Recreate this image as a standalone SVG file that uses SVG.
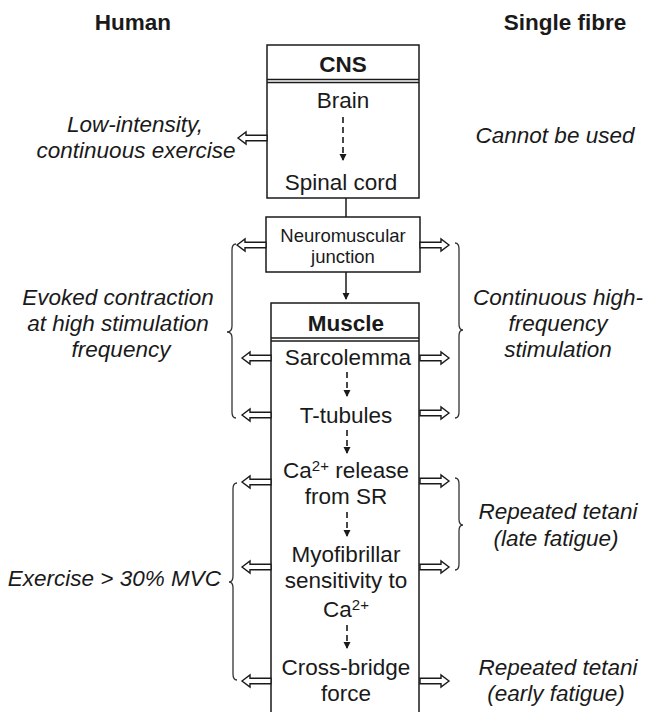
<svg xmlns="http://www.w3.org/2000/svg" width="650" height="712" viewBox="0 0 650 712">
<style>
text{font-family:"Liberation Sans",Arial,sans-serif;fill:#1a1a1a;font-size:22.5px}
.b{font-weight:bold}
.i{font-style:italic}
.m{text-anchor:middle}
.box{fill:#fff;stroke:#1a1a1a;stroke-width:1.5}
.ln{stroke:#1a1a1a;stroke-width:1.5;fill:none}
.dash{stroke:#1a1a1a;stroke-width:1.6;fill:none;stroke-dasharray:6 4}
.brace{stroke:#333;stroke-width:1.3;fill:none}
.ba{fill:#fff;stroke:#1a1a1a;stroke-width:1.4;stroke-linejoin:miter}
</style>
<defs>
<marker id="ah" markerWidth="8" markerHeight="8" refX="6" refY="4" orient="auto" markerUnits="userSpaceOnUse">
<path d="M0,0.5 L7,4 L0,7.5 Z" fill="#1a1a1a"/>
</marker>
<path id="la" class="ba" d="M0,0 L8,-6 L8,-2.8 L29,-2.8 L29,2.8 L8,2.8 L8,6 Z"/>
<path id="ra" class="ba" d="M0,0 L-8,-6 L-8,-2.8 L-29,-2.8 L-29,2.8 L-8,2.8 L-8,6 Z"/>
</defs>

<g id="headers">
<text class="b m" x="133" y="30">Human</text>
<text class="b m" x="565" y="30">Single fibre</text>
</g>

<g id="cns">
<rect class="box" x="267" y="45" width="152" height="153"/>
<line class="ln" x1="267" y1="79.5" x2="419" y2="79.5" stroke-width="1.2"/>
<line class="ln" x1="267" y1="82.5" x2="419" y2="82.5" stroke-width="1.2"/>
<text class="b m" x="343" y="72">CNS</text>
<text class="m" x="343" y="108">Brain</text>
<text class="m" x="341" y="190">Spinal cord</text>
</g>

<g id="nmj">
<rect class="box" x="266" y="217" width="154" height="55"/>
<text class="m" x="343" y="242" style="font-size:18.5px">Neuromuscular</text>
<text class="m" x="343" y="263" style="font-size:18.5px">junction</text>
</g>

<g id="muscle">
<path class="ln" d="M271,715 L271,303 L419,303 L419,715"/>
<line class="ln" x1="271" y1="338" x2="419" y2="338" stroke-width="1.2"/>
<line class="ln" x1="271" y1="341" x2="419" y2="341" stroke-width="1.2"/>
<text class="b m" x="346" y="331">Muscle</text>
<text class="m" x="348" y="365">Sarcolemma</text>
<text class="m" x="346" y="423">T-tubules</text>
<text class="m" x="346" y="478">Ca<tspan dy="-7" style="font-size:15px">2+</tspan><tspan dy="7"> release</tspan></text>
<text class="m" x="346" y="504">from SR</text>
<text class="m" x="346" y="562">Myofibrillar</text>
<text class="m" x="346" y="588">sensitivity to</text>
<text class="m" x="346" y="617">Ca<tspan dy="-7" style="font-size:15px">2+</tspan></text>
<text class="m" x="346" y="675">Cross-bridge</text>
<text class="m" x="346" y="701">force</text>
</g>

<g id="human-labels">
<text class="i m" x="135" y="132">Low-intensity,</text>
<text class="i m" x="136" y="158">continuous exercise</text>
<text class="i m" x="118" y="305">Evoked contraction</text>
<text class="i m" x="118" y="331">at high stimulation</text>
<text class="i m" x="121" y="357">frequency</text>
<text class="i" x="221" y="586" text-anchor="end">Exercise &gt; 30% MVC</text>
</g>

<g id="fibre-labels">
<text class="i m" x="555" y="143">Cannot be used</text>
<text class="i m" x="558" y="305">Continuous high-</text>
<text class="i m" x="558" y="331">frequency</text>
<text class="i m" x="558" y="357">stimulation</text>
<text class="i m" x="558" y="519">Repeated tetani</text>
<text class="i m" x="556" y="546">(late fatigue)</text>
<text class="i m" x="558" y="675">Repeated tetani</text>
<text class="i m" x="556" y="701">(early fatigue)</text>
</g>

<g id="braces">
<path class="brace" d="M236,244 Q232,244 232,250 L232,326 Q232,332 227,332 Q232,332 232,338 L232,412 Q232,418 236,418"/>
<path class="brace" d="M455,243 Q459,243 459,249 L459,324 Q459,330 463,330 Q459,330 459,336 L459,412 Q459,418 455,418"/>
<path class="brace" d="M237,483 Q233,483 233,489 L233,576 Q233,582 229,582 Q233,582 233,588 L233,674 Q233,680 237,680"/>
<path class="brace" d="M455,478 Q459,478 459,484 L459,519 Q459,525 463,525 Q459,525 459,531 L459,564 Q459,570 455,570"/>
</g>

<g id="connectors">
<line class="ln" x1="346" y1="198" x2="346" y2="217"/>
<line class="ln" x1="346" y1="272" x2="346" y2="299" marker-end="url(#ah)"/>
<line class="dash" x1="343" y1="117" x2="343" y2="160" marker-end="url(#ah)"/>
<line class="dash" x1="347" y1="372" x2="347" y2="396" marker-end="url(#ah)"/>
<line class="dash" x1="347" y1="430" x2="347" y2="453" marker-end="url(#ah)"/>
<line class="dash" x1="347" y1="512" x2="347" y2="536" marker-end="url(#ah)"/>
<line class="dash" x1="347" y1="625" x2="347" y2="648" marker-end="url(#ah)"/>
<use href="#la" x="238" y="138"/>
<use href="#la" x="237" y="245"/>
<use href="#la" x="242" y="358"/>
<use href="#la" x="242" y="415"/>
<use href="#la" x="242" y="482"/>
<use href="#la" x="242" y="567"/>
<use href="#la" x="242" y="681"/>
<use href="#ra" x="449" y="245"/>
<use href="#ra" x="449" y="358"/>
<use href="#ra" x="449" y="413"/>
<use href="#ra" x="449" y="481"/>
<use href="#ra" x="449" y="567"/>
<use href="#ra" x="449" y="681"/>
</g>
</svg>
